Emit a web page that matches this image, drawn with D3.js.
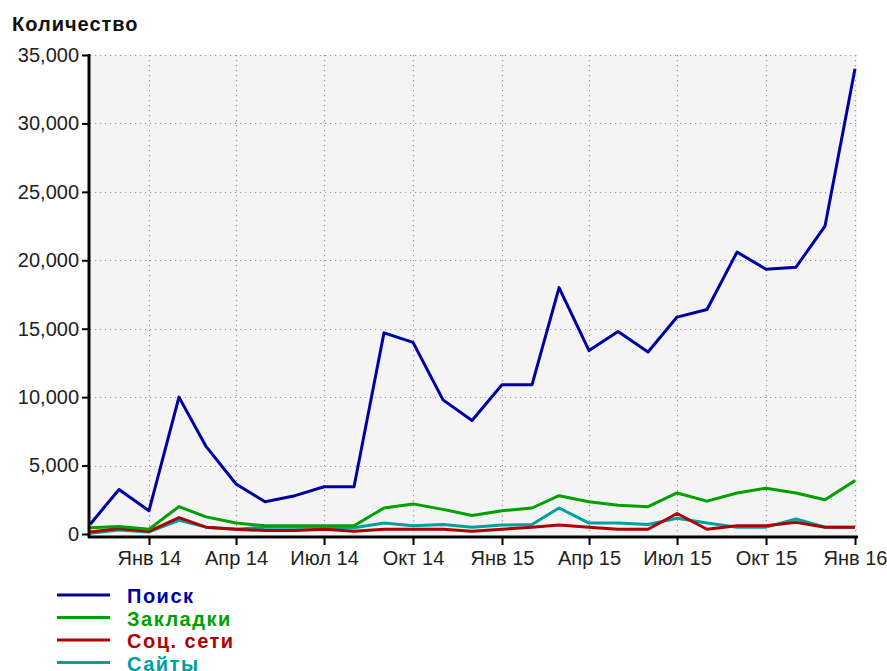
<!DOCTYPE html>
<html lang="ru">
<head>
  <meta charset="UTF-8">
  <title>Количество</title>
  <script src="https://cdn.jsdelivr.net/npm/d3@7"></script>
  <style>
    body { margin: 0; background: white; }
    svg { display: block; font-family: "Liberation Sans", Arial, sans-serif; }
  </style>
</head>
<body>
  <script>
    // months Nov 2013 .. Jan 2016
    var months = ["2013-11","2013-12","2014-01","2014-02","2014-03","2014-04","2014-05","2014-06","2014-07","2014-08","2014-09","2014-10","2014-11","2014-12","2015-01","2015-02","2015-03","2015-04","2015-05","2015-06","2015-07","2015-08","2015-09","2015-10","2015-11","2015-12","2016-01"];

    var search    = [700, 3250, 1700, 10000, 6400, 3650, 2350, 2800, 3450, 3450, 14700, 14000, 9800, 8300, 10900, 10900, 18000, 13400, 14800, 13300, 15850, 16400, 20600, 19350, 19500, 22500, 34000];
    var bookmarks = [450, 550, 350, 2000, 1250, 800, 600, 600, 600, 600, 1900, 2200, 1800, 1350, 1700, 1900, 2800, 2350, 2100, 2000, 3000, 2400, 3000, 3350, 3000, 2500, 3900];
    var social    = [150, 400, 200, 1200, 500, 350, 250, 250, 350, 200, 350, 350, 350, 200, 350, 500, 650, 500, 350, 350, 1500, 350, 600, 600, 850, 500, 500];
    var sites     = [50, 300, 150, 1000, 500, 350, 500, 500, 500, 450, 800, 600, 700, 500, 650, 700, 1900, 800, 800, 700, 1150, 800, 500, 500, 1100, 500, 500];

    var seriesNames  = ["Поиск", "Закладки", "Соц. сети", "Сайты"];
    var seriesColors = ["#0000a0", "#00a000", "#b00000", "#00a0a0"];
    var seriesValues = [search, bookmarks, social, sites];

    var monthNames = ["Янв","Фев","Мар","Апр","Май","Июн","Июл","Авг","Сен","Окт","Ноя","Дек"];
    var yTicks = [0, 5000, 10000, 15000, 20000, 25000, 30000, 35000];

    var w = 887, h = 671;
    var pLeft = 90, pRight = 855, pTop = 55, pBottom = 534;

    var parse = d3.timeParse("%Y-%m");
    var dates = months.map(parse);

    var svg = d3.select("body").append("svg")
      .attr("width", w)
      .attr("height", h);

    var x = d3.scaleTime()
      .domain(d3.extent(dates))
      .range([pLeft, pRight]);

    var y = d3.scaleLinear()
      .domain([0, 35000])
      .range([pBottom, pTop]);

    var xTicks = x.ticks(d3.timeMonth.every(3));

    // plot background
    svg.append("rect")
      .attr("x", pLeft)
      .attr("y", pTop)
      .attr("width", pRight - pLeft + 2)
      .attr("height", pBottom - pTop + 2)
      .attr("fill", "#f4f4f4");

    // grid
    var grid = svg.append("g")
      .attr("stroke", "#999")
      .attr("stroke-width", 1.2)
      .attr("stroke-dasharray", "1.2,3.8");

    grid.selectAll("line.h")
      .data(yTicks.filter(function(d){ return d > 0; }))
      .enter()
      .append("line")
      .attr("x1", pLeft)
      .attr("x2", pRight + 2)
      .attr("y1", function(d){ return Math.round(y(d)) + 0.5; })
      .attr("y2", function(d){ return Math.round(y(d)) + 0.5; });

    grid.selectAll("line.v")
      .data(xTicks)
      .enter()
      .append("line")
      .attr("y1", pTop)
      .attr("y2", pBottom)
      .attr("x1", function(d){ return Math.round(x(d)) + 0.5; })
      .attr("x2", function(d){ return Math.round(x(d)) + 0.5; });

    // series lines, last one drawn first
    var line = d3.line()
      .x(function(d, i){ return x(dates[i]); })
      .y(function(d){ return y(d); });

    svg.selectAll("path.series")
      .data(seriesValues.slice().reverse())
      .enter()
      .append("path")
      .attr("d", line)
      .attr("fill", "none")
      .attr("stroke", function(d, i){ return seriesColors[seriesColors.length - 1 - i]; })
      .attr("stroke-width", 3)
      .attr("stroke-linejoin", "round");

    // y axis
    var yAxis = svg.append("g")
      .attr("transform", "translate(" + (pLeft - 1) + ",0)")
      .call(d3.axisLeft(y)
        .tickValues(yTicks)
        .tickSize(7)
        .tickPadding(3)
        .tickFormat(d3.format(",")));

    yAxis.select(".domain").attr("stroke-width", 3).attr("d", "M0," + (pTop - 1) + "V" + (pBottom + 4));
    yAxis.selectAll(".tick line").attr("stroke-width", 2);
    yAxis.selectAll(".tick text")
      .attr("font-size", 20)
      .attr("fill", "#222")
      .attr("font-family", "Liberation Sans, Arial, sans-serif");

    // x axis
    var xAxis = svg.append("g")
      .attr("transform", "translate(0," + (pBottom + 3) + ")")
      .call(d3.axisBottom(x)
        .tickValues(xTicks)
        .tickSize(8)
        .tickPadding(6)
        .tickFormat(function(d){
          return monthNames[d.getMonth()] + " " + d3.timeFormat("%y")(d);
        }));

    xAxis.select(".domain").attr("stroke-width", 3).attr("d", "M" + (pLeft - 2) + ",0H" + (pRight + 3));
    xAxis.selectAll(".tick line").attr("stroke-width", 2);
    xAxis.selectAll(".tick text")
      .attr("font-size", 20)
      .attr("fill", "#222")
      .attr("font-family", "Liberation Sans, Arial, sans-serif");

    // title
    svg.append("text")
      .attr("x", 12)
      .attr("y", 31)
      .attr("font-size", 20)
      .attr("font-weight", "bold")
      .attr("letter-spacing", 1)
      .attr("fill", "#111")
      .text("Количество");

    // legend
    var legend = svg.selectAll("g.legend")
      .data(seriesNames)
      .enter()
      .append("g")
      .attr("transform", function(d, i){ return "translate(57," + (595 + i * 22.5) + ")"; });

    legend.append("line")
      .attr("x1", 0)
      .attr("x2", 53)
      .attr("stroke", function(d, i){ return seriesColors[i]; })
      .attr("stroke-width", 3);

    legend.append("text")
      .attr("x", 70)
      .attr("y", 8)
      .attr("font-size", 20)
      .attr("font-weight", "bold")
      .attr("letter-spacing", 1.5)
      .attr("fill", function(d, i){ return seriesColors[i]; })
      .text(function(d){ return d; });
  </script>
</body>
</html>
